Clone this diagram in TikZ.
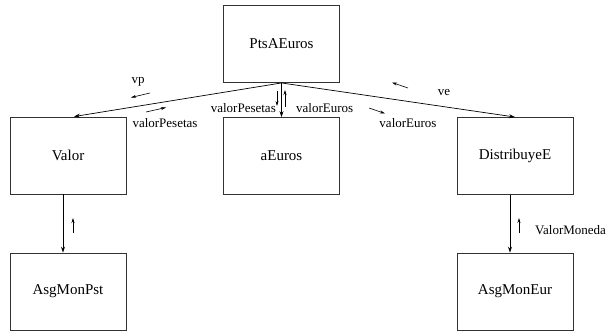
\documentclass[tikz,border=0pt]{standalone}
\usepackage{fontspec}
\setmainfont{Liberation Serif}
\usepackage{tikz}
\usetikzlibrary{arrows.meta, positioning}
\tikzset{
  line/.style={draw=black, line width=0.7pt},
  conn/.style={line, -{Stealth[length=6pt, width=4pt]}},
  flow/.style={draw=black, line width=0.6pt, -{Stealth[length=5pt, width=3pt]}},
  block/.style={draw=black!80, line width=0.9pt, rectangle, inner sep=0pt, minimum width=116pt, minimum height=77pt, font=\fontsize{15}{17}\selectfont},
  lbl/.style={inner sep=0pt, font=\fontsize{13}{15}\selectfont}
}
\begin{document}
\begin{tikzpicture}[x=1pt, y=-1pt]
  \useasboundingbox (0,0) rectangle (611,333);
  % Boxes
  \node[block] (ptsa) at (281.5,44) {PtsAEuros};
  \node[block] (valor) at (68,155.5) {Valor};
  \node[block] (aeuros) at (281.5,156) {aEuros};
  \node[block] (distr) at (515,156) {DistribuyeE};
  \node[block] (asgpst) at (68,291.5) {AsgMonPst};
  \node[block] (asgeur) at (515,291.5) {AsgMonEur};

  % Connectors
  \draw[conn] (ptsa.south) -- ([xshift=6pt]valor.north);
  \draw[conn] (ptsa.south) -- (aeuros.north);
  \draw[conn] (ptsa.south) -- (distr.north);
  \draw[conn] ([xshift=-5pt]valor.south) -- ([xshift=-5pt]asgpst.north);
  \draw[conn] ([xshift=-5pt]distr.south) -- ([xshift=-5pt]asgeur.north);

  % Labels
  \node[lbl] (vp) at (138,82) {vp};
  \node[lbl] (vpes1) at (165,123) {valorPesetas};
  \node[lbl, anchor=east] (vpes2) at (276,108) {valorPesetas};
  \node[lbl, anchor=west] (veur1) at (296,108) {valorEuros};
  \node[lbl] (ve) at (444,92) {ve};
  \node[lbl] (veur2) at (408,123) {valorEuros};
  \node[lbl, anchor=west] (vmon) at (535,230) {ValorMoneda};

  % Flow arrows
  \draw[flow] (150,93) -- (131,97.5);
  \draw[flow] (146,112) -- (166,107.5);
  \draw[flow] (277,91) -- (277,106);
  \draw[flow] (285,107) -- (285,90);
  \draw[flow] (408,88) -- (392,82.5);
  \draw[flow] (369,108) -- (385,113.5);
  \draw[flow] (73,233) -- (73,218);
  \draw[flow] (519,233) -- (519,218);
\end{tikzpicture}
\end{document}
